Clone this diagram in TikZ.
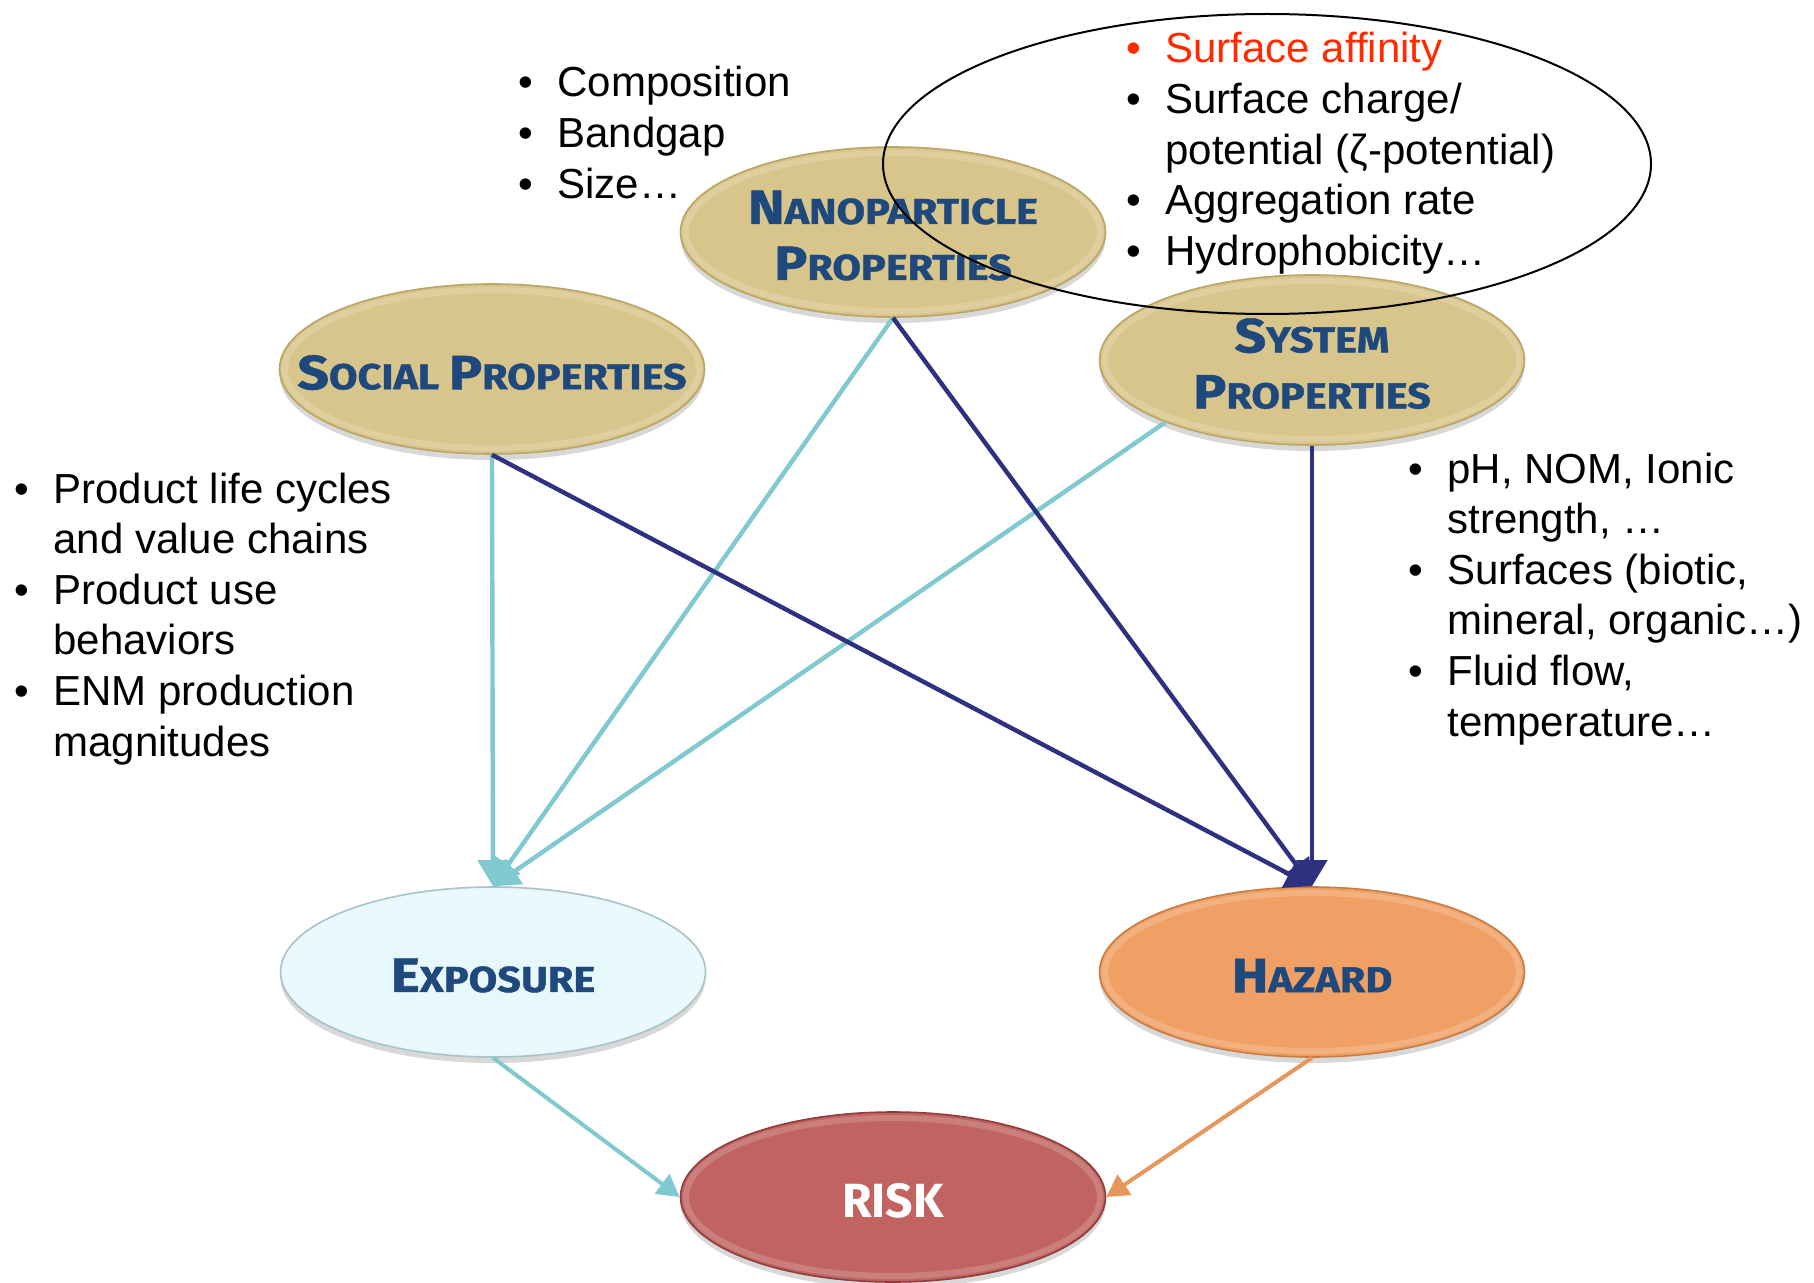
\documentclass[tikz,border=0pt]{standalone}
\usepackage{fontspec}
\setmainfont{Liberation Sans}
\newfontfamily\headfont{Fira Sans}[FakeStretch=1.15, BoldFeatures={FakeBold=1.2}]
\newfontfamily\riskfont{Fira Sans}
\usetikzlibrary{arrows.meta,shapes.geometric,shadows}
\definecolor{ink}{HTML}{1F497D}
\definecolor{gold}{HTML}{D8C58B}
\definecolor{golde}{HTML}{B9A565}
\definecolor{ice}{HTML}{E6F8FC}
\definecolor{icee}{HTML}{A9C3C8}
\definecolor{peach}{HTML}{F0A064}
\definecolor{peache}{HTML}{C47E45}
\definecolor{brick}{HTML}{C06361}
\definecolor{bricke}{HTML}{8E3E3E}
\definecolor{lteal}{HTML}{80CACF}
\definecolor{navy}{HTML}{2E3080}
\definecolor{orng}{HTML}{E8975C}
\definecolor{hot}{HTML}{FF2A00}
\newcommand\hd[1]{{\fontsize{24}{28}\selectfont#1}}
\newcommand\bl{\makebox[19.5pt][l]{\textbullet}}
\tikzset{
  oval/.style={ellipse, minimum width=212.5pt, minimum height=85pt, inner sep=0pt, line width=0.8pt,
    drop shadow={shadow xshift=0pt, shadow yshift=-3pt, opacity=0.3},
    path picture={\draw[white, opacity=0.18, line width=3pt]
      (path picture bounding box.center) ellipse [x radius=103.5pt, y radius=39.5pt];}},
  prop/.style={oval, fill=gold, draw=golde},
  head/.style={font=\headfont\bfseries\fontsize{18}{28}\selectfont, text=ink, align=center, yshift=-1.8pt},
  items/.style={anchor=base west, inner sep=0pt, font=\fontsize{21}{25.3}\selectfont},
  ring/.style={ellipse, draw=black, line width=1pt, minimum width=384pt, minimum height=150pt},
  lite/.style={draw=lteal, line width=2.2pt, -{Triangle[length=13pt,width=15pt]}},
  dark/.style={draw=navy, line width=2.2pt, -{Triangle[length=13pt,width=15pt]}},
  warm/.style={draw=orng, line width=2pt, -{Triangle[length=11pt,width=12pt]}},
}
\begin{document}
\begin{tikzpicture}[x=0.5pt,y=-0.5pt]
  \useasboundingbox[fill=white] (0,0) rectangle (1814,1283);
  % property ovals
  \node[prop, label={[head]center:\hd{N}ANOPARTICLE\\\hd{P}ROPERTIES}] (nano) at (893,232) {};
  \node[prop, label={[head]center:\hd{S}OCIAL \hd{P}ROPERTIES}] (soc) at (492,369) {};
  \node[prop, label={[head]center:\hd{S}YSTEM\\\hd{P}ROPERTIES}] (sys) at (1312,360) {};
  \node[oval, fill=ice, draw=icee, label={[head]center:\hd{E}XPOSURE}] (expo) at (493,972) {};
  \node[oval, fill=peach, draw=peache, label={[head]center:\hd{H}AZARD}] (haz) at (1312,972) {};
  \node[oval, fill=brick, draw=bricke,
    label={[head,font=\riskfont\bfseries\fontsize{24}{28}\selectfont,text=white]center:RISK}] (risk) at (893,1197) {};
  \node[ring] (focus) at (1267,164) {};
  % bullet lists
  \node[items] (compo) at (518,97) {\begin{tabular}[t]{@{}l@{}l@{}}
    \bl&Composition\\ \bl&Bandgap\\ \bl&Size…\end{tabular}};
  \node[items] (surf) at (1126,63) {\begin{tabular}[t]{@{}l@{}l@{}}
    \color{hot}\bl&\color{hot}Surface affinity\\ \bl&Surface charge/\\ &potential (ζ-potential)\\
    \bl&Aggregation rate\\ \bl&Hydrophobicity…\end{tabular}};
  \node[items] (prod) at (14,503) {\begin{tabular}[t]{@{}l@{}l@{}}
    \bl&Product life cycles\\ &and value chains\\ \bl&Product use\\ &behaviors\\
    \bl&ENM production\\ &magnitudes\end{tabular}};
  \node[items] (chem) at (1408,483) {\begin{tabular}[t]{@{}l@{}l@{}}
    \bl&pH, NOM, Ionic\\ &strength, …\\ \bl&Surfaces (biotic,\\ &mineral, organic…)\\
    \bl&Fluid flow,\\ &temperature…\end{tabular}};
  % links
  \foreach \s in {soc.south,nano.south,sys.203}
    \draw[lite] (\s) -- (expo.north);
  \foreach \s in {soc.south,nano.south,sys.south}
    \draw[dark] (\s) -- (haz.north);
  \draw[lite, line width=2pt, -{Triangle[length=11pt,width=12pt]}] (expo.south) -- (risk.west);
  \draw[warm] (haz.south) -- (risk.east);
\end{tikzpicture}
\end{document}
